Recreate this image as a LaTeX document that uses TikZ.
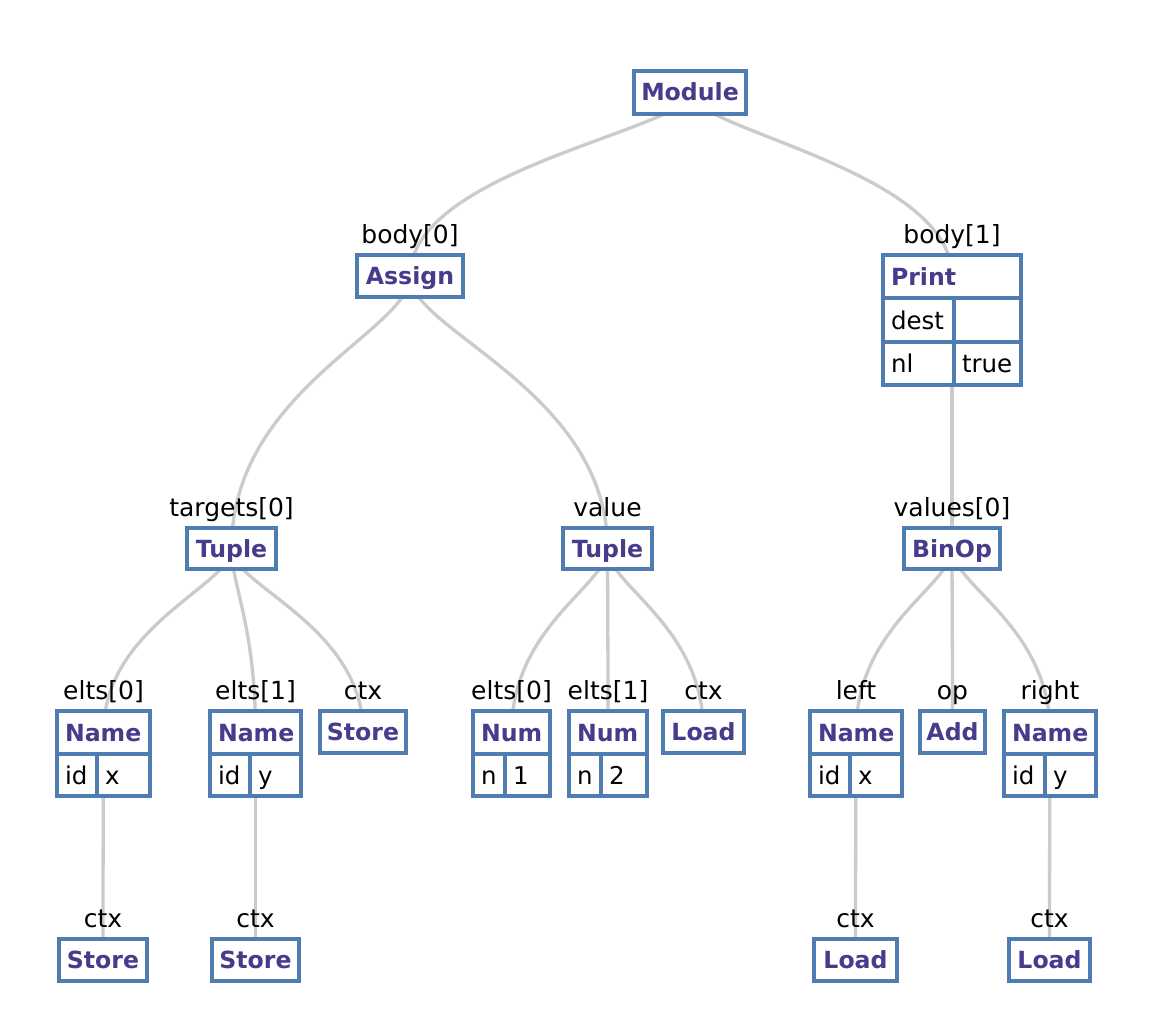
\documentclass[tikz,border=0pt]{standalone}
\usepackage{fontspec}
\setmainfont{DejaVu Sans}
\usetikzlibrary{calc}
\pgfdeclarelayer{bgzero}
\pgfdeclarelayer{edgelayer}
\pgfsetlayers{bgzero,edgelayer,main}
\definecolor{bord}{HTML}{4F7DB2}
\definecolor{ink}{HTML}{463C8C}
\definecolor{edgec}{HTML}{CBCBCB}
\tikzset{
  box/.style={draw=bord, line width=3.6pt, fill=white, inner sep=0pt,
    font=\fontsize{23.6}{28}\selectfont\bfseries, text=ink,
    text height=17pt, text depth=0pt},
  hdr/.style={box, inner xsep=8pt, align=left},
  cell/.style={draw=bord, line width=3.6pt, fill=white, inner sep=0pt, inner xsep=8pt,
    align=left, font=\fontsize{24.5}{29}\selectfont, text=black,
    text height=18pt, text depth=0pt},
  lbl/.style={font=\fontsize{25}{30}\selectfont, text=black, inner sep=0pt, anchor=base},
  edge/.style={draw=edgec, line width=3.3pt},
}
% centred box: name, x1, x2, y1, y2, text
\newcommand\bx[6]{%
  \pgfmathsetmacro\bw{#3-#2}\pgfmathsetmacro\bh{#5-#4}%
  \node[box, minimum width=\bw pt, minimum height=\bh pt] (#1) at ({(#2+#3)/2},{(#4+#5)/2}) {#6};}
% left aligned box: style, name, x1, x2, y1, y2, text
\newcommand\lx[7][cell]{%
  \pgfmathsetmacro\bw{#4-#3}\pgfmathsetmacro\bh{#6-#5}\pgfmathsetmacro\tw{#4-#3-16}%
  \node[#1, text width=\tw pt, minimum width=\bw pt, minimum height=\bh pt] (#2) at ({(#3+#4)/2},{(#5+#6)/2}) {#7};}
\newcommand\lk[2]{%
  \draw[edge] let \p1=(#1.center), \p2=(#2.center) in
    (\p1) .. controls (\x1,{0.8*(\y1)+0.2*(\y2)}) and (\x2,{0.58*(\y1)+0.42*(\y2)}) .. (\p2);}
\begin{document}
\begin{tikzpicture}[x=1pt,y=-1pt]
\begin{pgfonlayer}{bgzero}
  \fill[white] (0,0) rectangle (1166,1030);
\end{pgfonlayer}
\useasboundingbox (0,0) rectangle (1166,1030);

% level 1
\bx{module}{634}{746}{71}{114}{Module}
% level 2
\node[lbl] (lbody0) at (410,243) {body[0]};
\bx{assign}{357}{463}{255}{297}{Assign}
\node[lbl] (lbody1) at (952,243) {body[1]};
\lx[hdr]{print}{883}{1021}{255}{298}{Print}
\lx{pdk}{883}{954}{298}{342}{dest}
\lx{pdv}{954}{1021}{298}{342}{}
\lx{pnk}{883}{954}{342}{385}{nl}
\lx{pnv}{954}{1021}{342}{385}{true}
% level 3
\node[lbl] (ltargets) at (231.5,516) {targets[0]};
\bx{tupt}{187}{276}{528}{569}{Tuple}
\node[lbl] (lvalue) at (607.5,516) {value};
\bx{tupv}{563}{652}{528}{569}{Tuple}
\node[lbl] (lvalues) at (952,516) {values[0]};
\bx{binop}{904}{1000}{528}{569}{BinOp}
% level 4
\node[lbl] (le0) at (103.5,699) {elts[0]};
\lx[hdr]{name0}{57}{150}{711}{754}{Name}
\lx{n0k}{57}{97}{754}{796}{id}
\lx{n0v}{97}{150}{754}{796}{x}
\node[lbl] (le1) at (255.5,699) {elts[1]};
\lx[hdr]{name1}{210}{301}{711}{754}{Name}
\lx{n1k}{210}{250}{754}{796}{id}
\lx{n1v}{250}{301}{754}{796}{y}
\node[lbl] (lctx0) at (363,699) {ctx};
\bx{store0}{320}{406}{711}{753}{Store}
\node[lbl] (le2) at (511.5,699) {elts[0]};
\lx[hdr]{num1}{473}{550}{711}{754}{Num}
\lx{m1k}{473}{505}{754}{796}{n}
\lx{m1v}{505}{550}{754}{796}{1}
\node[lbl] (le3) at (608,699) {elts[1]};
\lx[hdr]{num2}{569}{647}{711}{754}{Num}
\lx{m2k}{569}{601}{754}{796}{n}
\lx{m2v}{601}{647}{754}{796}{2}
\node[lbl] (lctx1) at (703.5,699) {ctx};
\bx{load0}{663}{744}{711}{753}{Load}
\node[lbl] (lleft) at (856,699) {left};
\lx[hdr]{nameL}{810}{902}{711}{754}{Name}
\lx{nLk}{810}{850}{754}{796}{id}
\lx{nLv}{850}{902}{754}{796}{x}
\node[lbl] (lop) at (952.5,699) {op};
\bx{add}{920}{985}{711}{753}{Add}
\node[lbl] (lright) at (1050,699) {right};
\lx[hdr]{nameR}{1004}{1096}{711}{754}{Name}
\lx{nRk}{1004}{1045}{754}{796}{id}
\lx{nRv}{1045}{1096}{754}{796}{y}
% level 5
\node[lbl] (lctx2) at (103,927) {ctx};
\bx{storeA}{59}{147}{939}{981}{Store}
\node[lbl] (lctx3) at (255.5,927) {ctx};
\bx{storeB}{212}{299}{939}{981}{Store}
\node[lbl] (lctx4) at (855.5,927) {ctx};
\bx{loadA}{814}{897}{939}{981}{Load}
\node[lbl] (lctx5) at (1049.5,927) {ctx};
\bx{loadB}{1009}{1090}{939}{981}{Load}

\begin{pgfonlayer}{edgelayer}
\lk{module}{assign}
\lk{module}{print}
\lk{assign}{tupt}
\lk{assign}{tupv}
\lk{print}{binop}
\lk{tupt}{name0}
\lk{tupt}{name1}
\lk{tupt}{store0}
\lk{tupv}{num1}
\lk{tupv}{num2}
\lk{tupv}{load0}
\lk{binop}{nameL}
\lk{binop}{add}
\lk{binop}{nameR}
\lk{name0}{storeA}
\lk{name1}{storeB}
\lk{nameL}{loadA}
\lk{nameR}{loadB}
\end{pgfonlayer}
\end{tikzpicture}
\end{document}
